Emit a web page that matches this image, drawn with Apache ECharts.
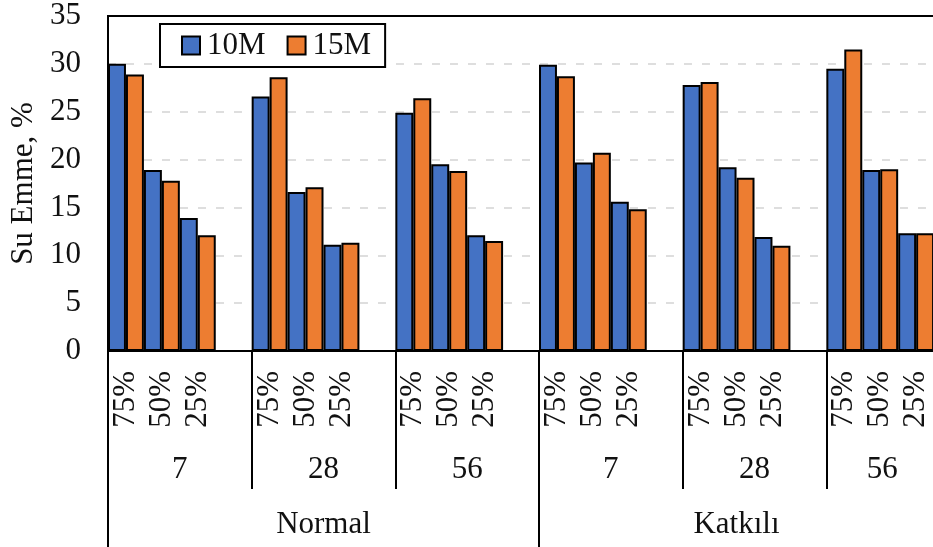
<!DOCTYPE html>
<html>
<head>
<meta charset="utf-8">
<script src="https://cdn.jsdelivr.net/npm/echarts@6/dist/echarts.min.js"></script>
<style>
  html, body { margin: 0; padding: 0; background: #fff; overflow: hidden; }
  /* plot runs past the right edge of the window, like the cropped original */
  #chart { width: 970px; height: 547px; }
</style>
</head>
<body>
<div id="chart"></div>
<script>
// levels inside each age group, ages, and mix groups
var levels = ['75%', '50%', '25%'];
var ages = ['7', '28', '56', '7', '28', '56'];
var groups = ['Normal', 'Katkılı'];
var seriesNames = ['10M', '15M'];

// values per (group, age, level), in reading order
var m10 = [30.0, 18.9, 13.9, 26.6, 16.6, 11.1, 24.9, 19.5, 12.1,
           29.9, 19.7, 15.6, 27.8, 19.2, 11.9, 29.5, 18.9, 12.3];
var m15 = [28.9, 17.8, 12.1, 28.6, 17.1, 11.3, 26.4, 18.8, 11.5,
           28.7, 20.7, 14.8, 28.1, 18.1, 11.0, 31.5, 19.0, 12.3];

var yTicks = {min: 0, max: 35, step: 5};

// each age group gets one empty slot at the end (as in the original sheet)
var cats = [], d10 = [], d15 = [];
for (var g = 0; g < ages.length; g++) {
  for (var l = 0; l < levels.length; l++) {
    cats.push(levels[l]);
    d10.push(m10[g * 3 + l]);
    d15.push(m15[g * 3 + l]);
  }
  cats.push('');
  d10.push('-');
  d15.push('-');
}

var font = 'Liberation Serif';
var fs = 31;
var txt = '#111';
var lbl = {fontFamily: font, fontSize: fs, color: txt};

var chart = echarts.init(document.getElementById('chart'));
var option = {
  animation: false,
  textStyle: {fontFamily: font},
  legend: {
    left: 160,
    top: 24,
    padding: [6, 14, 6, 21],
    itemGap: 21,
    itemWidth: 18,
    itemHeight: 18,
    icon: 'rect',
    backgroundColor: '#fff',
    borderColor: '#000',
    borderWidth: 2,
    itemStyle: {borderColor: '#000', borderWidth: 2},
    textStyle: {fontFamily: font, fontSize: fs, color: txt, padding: [0, 0, 0, 2]},
    data: seriesNames
  },
  grid: {
    left: 108,
    top: 16,
    right: 0,
    bottom: 196,
    show: true,
    borderColor: '#000',
    borderWidth: 2
  },
  yAxis: {
    type: 'value',
    min: yTicks.min,
    max: yTicks.max,
    interval: yTicks.step,
    name: 'Su Emme, %',
    nameLocation: 'middle',
    nameGap: 69,
    nameTextStyle: lbl,
    axisLine: {show: true, lineStyle: {color: '#000', width: 2}},
    axisTick: {show: false},
    axisLabel: {fontFamily: font, fontSize: fs, color: txt, margin: 27},
    splitLine: {showMaxLine: false, lineStyle: {color: '#d4d4d4', width: 1.5, type: [8, 10]}}
  },
  xAxis: [
    {
      type: 'category',
      data: cats,
      position: 'bottom',
      axisLine: {lineStyle: {color: '#000', width: 2}},
      axisTick: {show: false},
      axisLabel: {interval: 0, rotate: 90, margin: 20, fontFamily: font, fontSize: fs, color: txt}
    },
    {
      type: 'category',
      data: ages,
      position: 'bottom',
      axisLine: {show: false},
      axisTick: {show: true, length: 138, lineStyle: {color: '#000', width: 2}},
      axisLabel: {
        interval: 0, margin: 103, fontFamily: font, fontSize: fs, color: txt,
        // last label sits in the visible part of the cropped group
        formatter: function (v, i) { return i === ages.length - 1 ? '{e|' + v + '}' : v; },
        rich: {e: {fontFamily: font, fontSize: fs, color: txt, padding: [0, 32, 0, 0]}}
      }
    },
    {
      type: 'category',
      data: groups,
      position: 'bottom',
      axisLine: {show: false},
      axisTick: {show: true, length: 200, lineStyle: {color: '#000', width: 2}},
      axisLabel: {
        interval: 0, margin: 158, fontFamily: font, fontSize: fs, color: txt,
        formatter: function (v, i) { return i === groups.length - 1 ? '{e|' + v + '}' : v; },
        rich: {e: {fontFamily: font, fontSize: fs, color: txt, padding: [0, 36, 0, 0]}}
      }
    }
  ],
  series: [
    {
      name: seriesNames[0],
      type: 'bar',
      xAxisIndex: 0,
      data: d10,
      barGap: '0%',
      barCategoryGap: '0%',
      itemStyle: {color: '#4472C4', borderColor: '#000', borderWidth: 2}
    },
    {
      name: seriesNames[1],
      type: 'bar',
      xAxisIndex: 0,
      data: d15,
      barGap: '0%',
      barCategoryGap: '0%',
      itemStyle: {color: '#ED7D31', borderColor: '#000', borderWidth: 2}
    }
  ]
};
chart.setOption(option);
</script>
</body>
</html>
